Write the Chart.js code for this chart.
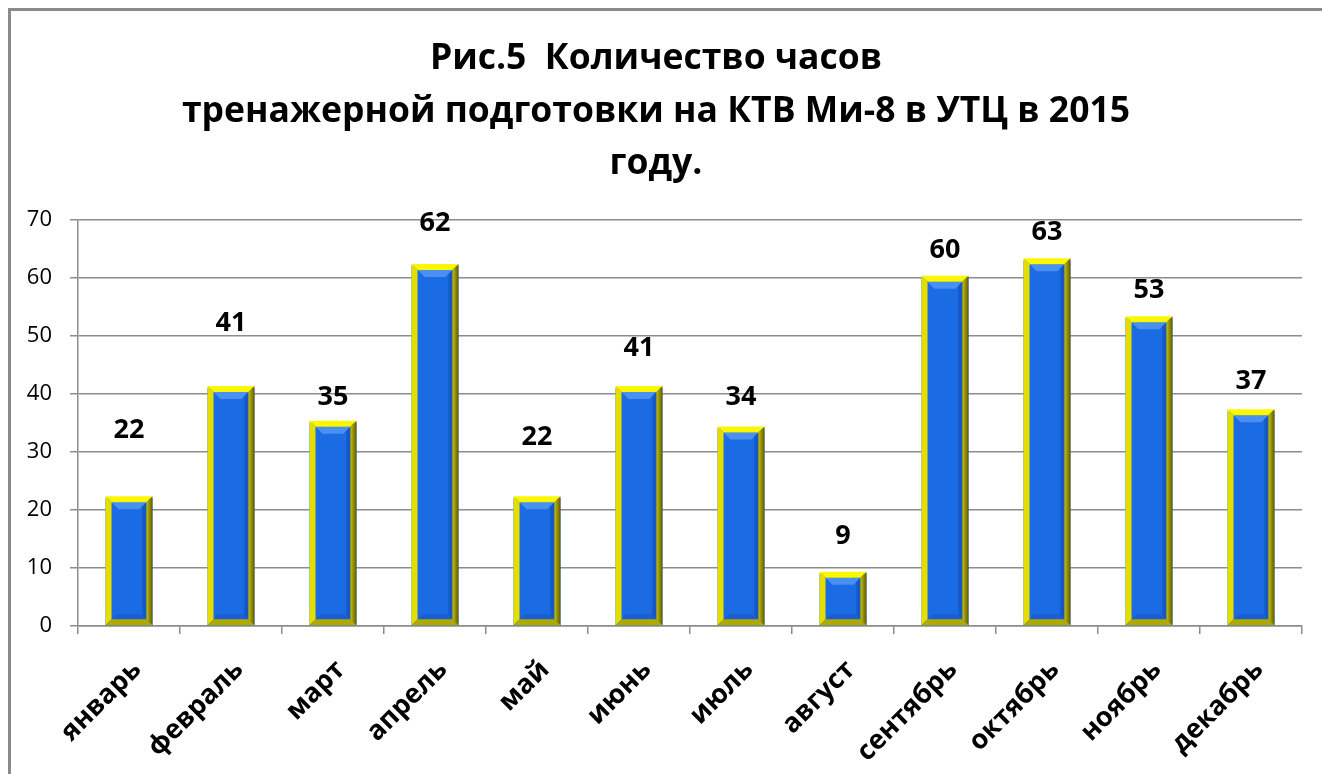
<!DOCTYPE html>
<html>
<head>
<meta charset="utf-8">
<script src="https://cdn.jsdelivr.net/npm/chart.js@4.4.0/dist/chart.umd.min.js"></script>
<style>
    html, body { margin: 0; background: #fff; overflow: hidden; }
    #chart { display: block; }
</style>
</head>
<body>
<canvas id="chart" width="1322" height="774"></canvas>
<script>
// -------------------- Data --------------------
const months = ["январь", "февраль", "март", "апрель", "май", "июнь",
                "июль", "август", "сентябрь", "октябрь", "ноябрь", "декабрь"];
const hours = [22, 41, 35, 62, 22, 41, 34, 9, 60, 63, 53, 37];
const titleLines = ["Рис.5  Количество часов",
                    "тренажерной подготовки на КТВ Ми-8 в УТЦ в 2015",
                    "году."];

const FONT = "'Open Sans', 'Noto Sans', sans-serif";

// -------------------- Outer frame (left + top only, picture is cropped) --------------------
const outerFrame = {
    id: 'outerFrame',
    beforeDraw(chart) {
        const ctx = chart.ctx;
        ctx.save();
        ctx.strokeStyle = '#8a8a8a';
        ctx.lineWidth = 3;
        ctx.beginPath();
        ctx.moveTo(9.5, chart.height);
        ctx.lineTo(9.5, 9.5);
        ctx.lineTo(chart.width, 9.5);
        ctx.stroke();
        ctx.restore();
    }
};

// -------------------- Bevelled bars --------------------
const bevelBars = {
    id: 'bevelBars',
    afterDatasetsDraw(chart) {
        const ctx = chart.ctx;
        chart.getDatasetMeta(0).data.forEach(bar => {
            const L = bar.x - bar.width / 2, R = bar.x + bar.width / 2;
            const T = bar.y - 2, B = bar.base, t = 6;
            const poly = (pts, color) => {
                ctx.beginPath();
                ctx.moveTo(pts[0][0], pts[0][1]);
                pts.slice(1).forEach(p => ctx.lineTo(p[0], p[1]));
                ctx.closePath();
                ctx.fillStyle = color;
                ctx.fill();
            };
            ctx.save();
            // blue face
            ctx.fillStyle = '#1a6be4';
            ctx.fillRect(L + t, T + t, R - L - 2 * t, B - T - 2 * t);
            // inner bevel of the face
            const it = 7;
            poly([[L + t, T + t], [R - t, T + t], [R - t - it, T + t + it], [L + t + it, T + t + it]], '#4a90f0');
            poly([[R - t, T + t], [R - t, B - t], [R - t - 4, B - t - 4], [R - t - 4, T + t + 4]], '#1558c4');
            poly([[L + t, B - t], [R - t, B - t], [R - t - 5, B - t - 5], [L + t + 5, B - t - 5]], '#1a5fd0');
            // yellow frame
            poly([[L, T], [R, T], [R - t, T + t], [L + t, T + t]], '#fbf700');
            poly([[L, T], [L + t, T + t], [L + t, B - t], [L, B]], '#e4de00');
            const g = ctx.createLinearGradient(R - t, 0, R, 0);
            g.addColorStop(0, '#c8c000');
            g.addColorStop(1, '#605a00');
            poly([[R, T], [R, B], [R - t, B - t], [R - t, T + t]], g);
            poly([[L, B], [R, B], [R - t, B - t], [L + t, B - t]], '#b0aa00');
            ctx.restore();
        });
    }
};

// -------------------- Value labels --------------------
const valueLabels = {
    id: 'valueLabels',
    afterDatasetsDraw(chart, args, opts) {
        const ctx = chart.ctx;
        const values = chart.data.datasets[0].data;
        ctx.save();
        ctx.font = `bold ${opts.size}px ${FONT}`;
        ctx.fillStyle = '#000';
        ctx.textAlign = 'center';
        ctx.textBaseline = 'middle';
        chart.getDatasetMeta(0).data.forEach((bar, i) => {
            ctx.fillText(values[i], bar.x, bar.y - opts.lift[i]);
        });
        ctx.restore();
    }
};

new Chart(document.getElementById('chart').getContext('2d'), {
    type: 'bar',
    data: {
        labels: months,
        datasets: [{
            data: hours,
            backgroundColor: '#1a6be4',
            borderWidth: 0,
            barPercentage: 0.46,
            categoryPercentage: 1
        }]
    },
    plugins: [outerFrame, bevelBars, valueLabels],
    options: {
        responsive: false,
        animation: false,
        layout: { padding: { left: 10, right: 20, top: 0, bottom: 0 } },
        plugins: {
            legend: { display: false },
            tooltip: { enabled: false },
            title: {
                display: true,
                text: titleLines,
                color: '#000',
                font: { family: FONT, size: 35.5, weight: 'bold', lineHeight: 1.48 },
                padding: { top: 33, bottom: 29 }
            },
            valueLabels: {
                size: 27,
                lift: [68, 65, 25, 43, 61, 40, 31, 37, 27, 28, 28, 30]
            }
        },
        scales: {
            y: {
                min: 0,
                max: 70,
                ticks: { stepSize: 10, color: '#000', padding: 18, font: { family: FONT, size: 22 } },
                grid: { color: '#8c8c8c', lineWidth: 1.5, tickLength: 8 },
                border: { color: '#8c8c8c', width: 1.5 },
                afterFit(scale) { scale.width = 68; }
            },
            x: {
                ticks: {
                    color: '#000', minRotation: 45, maxRotation: 45, padding: 20, labelOffset: 8,
                    font: { family: FONT, size: 27, weight: 'bold' }
                },
                grid: { display: true, drawOnChartArea: false, offset: true, color: '#8c8c8c', lineWidth: 1.5, tickLength: 8 },
                border: { color: '#8c8c8c', width: 1.5 },
                afterFit(scale) { scale.height = 148; }
            }
        }
    }
});
</script>
</body>
</html>
